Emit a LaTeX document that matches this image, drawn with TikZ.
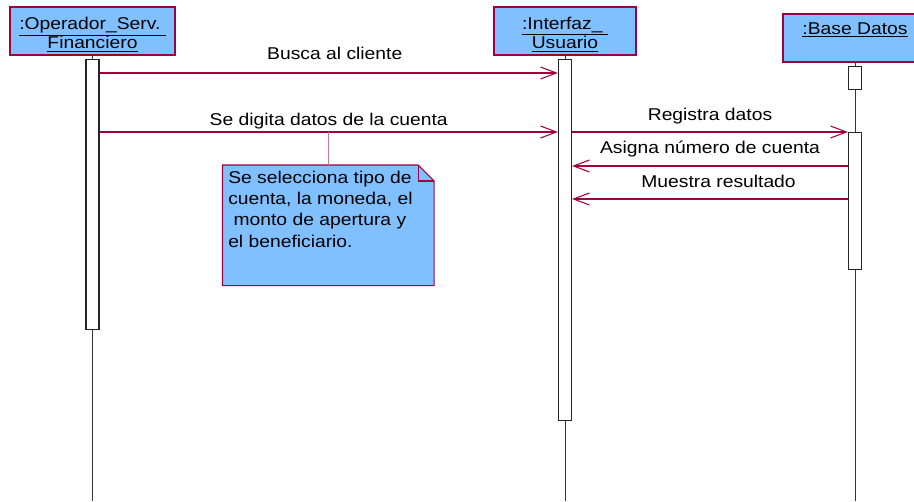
\documentclass[tikz,border=0pt]{standalone}
\usepackage{fontspec}
\setmainfont{Liberation Sans}[FakeStretch=1.13]
\usetikzlibrary{calc,arrows.meta}
\definecolor{objblue}{RGB}{128,192,255}
\definecolor{umlred}{RGB}{160,0,60}
\definecolor{linkpink}{RGB}{205,120,155}
\newcommand{\diagfont}{\fontsize{12.8}{14.5}\selectfont}
\newcommand{\notefont}{\fontsize{12.8}{16}\selectfont}
\newcommand{\foldsize}{16}
\newcommand{\actwidth}{9.75pt}
\newcommand{\actbar}[4]{%
    \node[draw=black!85, fill=white, line width=0.8pt, inner sep=0pt,
          minimum width=\actwidth, minimum height=#4, anchor=north]
          (#1) at (#2.south |- 0,#3) {};
}

\begin{document}
\begin{tikzpicture}[x=0.75pt, y=-0.75pt,
    objbox/.style={draw=umlred, fill=objblue, line width=0.9pt, inner sep=0pt,
                   minimum height=36pt},
    objtext/.style={inner sep=0pt, align=center, font=\diagfont},
    lifeline/.style={black!80, line width=0.6pt},
    msg/.style={umlred, line width=0.8pt, -{Straight Barb[length=12pt,width=9pt]}},
    msglabel/.style={anchor=base, inner sep=0pt, font=\diagfont, text=black},
    notelink/.style={linkpink, line width=0.8pt}]
\useasboundingbox (0,0) rectangle (914,501);
\clip (0,0) rectangle (914,501);

% objects
\node[objbox, minimum width=123.75pt] (oper) at (92.5,31) {};
\node[objbox, minimum width=106.5pt] (intf) at (565,31) {};
\node[objbox, minimum width=108pt] (base) at (855,38) {};
\node[objtext] (operName) at ([yshift=-2.5pt]oper.center)
    {\underline{:Operador\_Serv.\ }\\\underline{Financiero}};
\node[objtext] (intfName) at ([yshift=-2.5pt]intf.center)
    {\underline{:Interfaz\_\ }\\\underline{Usuario}};
\node[objtext] (baseName) at (base.center)
    {\underline{:Base Datos}\\\mbox{}};

% lifelines
\foreach \obj in {oper, intf, base}
    \draw[lifeline] (\obj.south) -- (\obj.south |- 0,501);

% activation bars
\actbar{operAct}{oper}{59}{202.5pt}
\actbar{intfAct}{intf}{59}{270.75pt}
\actbar{baseTop}{base}{66}{17.25pt}
\actbar{baseAct}{base}{132}{102.75pt}

% messages
\draw[msg] (operAct.east |- 0,73) -- node[msglabel, xshift=4.5pt, yshift=10.5pt] {Busca al cliente} (intfAct.west |- 0,73);
\draw[msg] (operAct.east |- 0,132) -- node[msglabel, yshift=5.25pt] {Se digita datos de la cuenta} (intfAct.west |- 0,132);
\draw[msg] (intfAct.east |- 0,132) -- node[msglabel, yshift=9pt] {Registra datos} (baseAct.west |- 0,132);
\draw[msg] (baseAct.west |- 0,166) -- node[msglabel, yshift=9.75pt] {Asigna número de cuenta} (intfAct.east |- 0,166);
\draw[msg] (baseAct.west |- 0,199) -- node[msglabel, xshift=6.4pt, yshift=9pt] {Muestra resultado} (intfAct.east |- 0,199);

% note with folded corner
\node[inner sep=0pt, minimum width=158.25pt, minimum height=90pt, anchor=north west] (note) at (222.5,165) {};
\filldraw[fill=objblue, draw=umlred, line width=0.8pt]
    (note.north west) -- ($(note.north east)+(-\foldsize,0)$)
    -- ($(note.north east)+(0,\foldsize)$) -- (note.south east)
    -- (note.south west) -- cycle;
\draw[umlred, line width=0.8pt] ($(note.north east)+(-\foldsize,0)$) -- ++(0,\foldsize) -- ++(\foldsize,0);
\node[anchor=north west, align=left, inner sep=0pt, font=\notefont] (notetext) at (228,170.5)
    {Se selecciona tipo de\\cuenta, la moneda, el\\\ monto de apertura y\\el beneficiario.};
\draw[notelink] (note.north) -- (note.north |- 0,132);

\end{tikzpicture}
\end{document}
